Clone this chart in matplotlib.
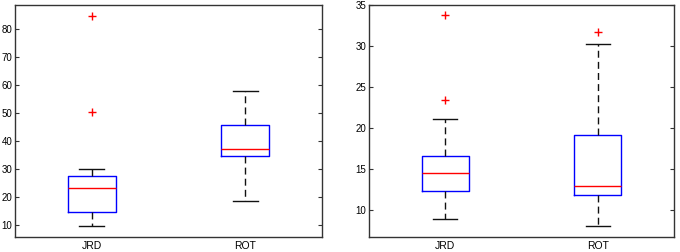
import matplotlib
matplotlib.use("Agg")
import matplotlib.pyplot as plt

categories = ["JRD", "ROT"]

# left panel: [whislo, q1, med, q3, whishi]
left_stats = [[9.6, 14.5, 23.0, 27.6, 30.0], [18.7, 34.7, 37.2, 45.6, 57.9]]
left_fliers = [[50.3, 84.6], []]
left_ylim = (5.7, 88.4)
left_ticks = [10, 20, 30, 40, 50, 60, 70, 80]

# right panel
right_stats = [[9.0, 12.35, 14.6, 16.6, 21.1], [8.1, 11.9, 13.0, 19.15, 30.2]]
right_fliers = [[23.4, 33.8], [31.7]]
right_ylim = (6.75, 35.0)
right_ticks = [10, 15, 20, 25, 30, 35]

plt.rcParams['font.family'] = ['Liberation Sans', 'DejaVu Sans']

fig = plt.figure(figsize=(6.8, 2.52), dpi=100)
axL = fig.add_axes([15/680, 1-237/252, 307/680, 232/252])
axR = fig.add_axes([369/680, 1-237/252, 305/680, 232/252])

def draw(ax, stats, fliers, ylim, ticks):
    bs = []
    for s, f, lab in zip(stats, fliers, categories):
        bs.append(dict(whislo=s[0], q1=s[1], med=s[2], q3=s[3], whishi=s[4],
                       fliers=f, label=lab))
    ax.bxp(bs, positions=[1, 2], widths=0.31, showfliers=True,
           boxprops=dict(color='#0000ff', linewidth=1.0),
           medianprops=dict(color='#ff0000', linewidth=1.0),
           whiskerprops=dict(color='#111111', linewidth=1.0, linestyle=(0, (5, 3))),
           capprops=dict(color='#111111', linewidth=1.0),
           capwidths=0.16,
           flierprops=dict(marker='+', markeredgecolor='#ff0000', markersize=6,
                           markeredgewidth=1.0, linestyle='none'))
    ax.set_xlim(0.5, 2.5)
    ax.set_ylim(*ylim)
    ax.set_yticks(ticks)
    ax.set_xticks([1, 2])
    ax.set_xticklabels(categories)
    ax.tick_params(axis='x', length=0, labelsize=7.5, pad=3)
    ax.tick_params(axis='y', direction='in', length=3, labelsize=7, left=True,
                   right=True, color='#333333', pad=2)
    for sp in ax.spines.values():
        sp.set_color('#333333')
        sp.set_linewidth(1.0)

draw(axL, left_stats, left_fliers, left_ylim, left_ticks)
draw(axR, right_stats, right_fliers, right_ylim, right_ticks)

fig.savefig("out.png", dpi=100)
